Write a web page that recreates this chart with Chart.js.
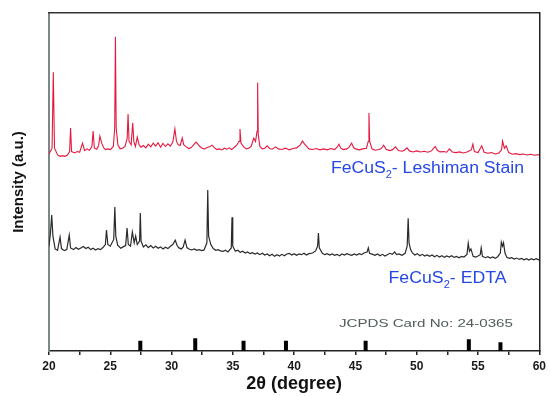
<!DOCTYPE html>
<html>
<head>
<meta charset="utf-8">
<script src="https://cdn.jsdelivr.net/npm/chart.js@4/dist/chart.umd.min.js"></script>
<style>
  html, body { margin: 0; padding: 0; background: #fff; }
  canvas { display: block; }
</style>
</head>
<body>
<canvas id="xrd" width="550" height="396"></canvas>
<script>
// --- DATA ---
// 2theta (deg), intensity (a.u., offset stack)
const leshimanScan = [
  [20.0,58.3],[20.25,60],[20.35,82.5],[20.45,60],[20.7,58.0],[20.9,57.6],[21.1,57.8],[21.3,57.6],[21.5,58.0],[21.68,59],
  [21.76,66.0],[21.84,59],[22.1,58.6],[22.3,59.0],[22.5,58.8],[22.74,61.5],[22.9,59.3],[23.1,59.8],[23.3,59.4],[23.5,60.5],
  [23.6,65.1],[23.7,60],[23.9,59.7],[24.05,60.8],[24.15,63.6],[24.3,61.5],[24.45,60.2],[24.6,59.6],[24.8,59.8],[25.0,59.6],
  [25.25,60.5],[25.36,66],[25.42,93.0],[25.48,66],[25.62,61],[25.8,59.8],[26.0,60.0],[26.2,60.5],[26.38,63],[26.45,70.1],
  [26.53,62],[26.7,61],[26.83,67.5],[26.92,62],[27.05,60.5],[27.2,63.3],[27.35,61],[27.5,60.3],[27.7,60.8],[27.9,60.1],
  [28.1,61.2],[28.3,60.4],[28.5,61.5],[28.7,60.6],[28.9,61.6],[29.1,60.3],[29.3,61.4],[29.5,60.5],[29.7,61.3],[29.9,60.6],
  [30.1,61.8],[30.27,65.7],[30.4,62.0],[30.55,61],[30.7,60.8],[30.87,63.0],[31.0,61],[31.2,60.4],[31.4,59.9],[31.6,60.2],
  [31.8,61.0],[32.0,61.8],[32.15,61.2],[32.3,60.5],[32.5,60.0],[32.7,59.8],[32.9,60.2],[33.1,60.4],[33.3,60.9],[33.5,60.1],
  [33.7,59.6],[33.9,59.8],[34.1,59.5],[34.3,60.0],[34.5,59.7],[34.7,60.1],[34.9,59.6],[35.1,60.2],[35.3,60.8],[35.5,62],
  [35.58,65.7],[35.66,61.5],[35.9,60.3],[36.1,59.8],[36.3,60.0],[36.5,60.6],[36.7,63.0],[36.85,62],[36.97,65],[37.02,79.4],
  [37.07,64],[37.2,60.5],[37.4,59.8],[37.6,60.0],[37.8,60.7],[38.0,59.9],[38.2,59.7],[38.5,60.4],[38.7,59.8],[39.0,59.6],
  [39.3,60.0],[39.6,59.5],[39.9,59.9],[40.2,60.1],[40.5,61.0],[40.68,62.1],[40.85,61.2],[41.0,60.6],[41.2,59.8],[41.5,59.6],
  [41.8,59.9],[42.1,59.5],[42.4,59.8],[42.7,59.5],[43.0,59.9],[43.3,59.6],[43.5,60.3],[43.66,61.2],[43.8,60.0],[44.0,59.6],
  [44.3,59.8],[44.5,60.4],[44.69,61.5],[44.85,60.2],[45.0,59.8],[45.3,59.5],[45.6,59.8],[45.9,60.0],[46.04,62],[46.1,70.4],
  [46.16,62],[46.35,59.8],[46.6,59.4],[46.9,59.6],[47.1,59.9],[47.3,60.9],[47.5,59.7],[47.8,59.3],[48.0,59.5],[48.27,60.4],
  [48.5,59.3],[48.8,59.1],[49.0,59.4],[49.2,60.1],[49.4,59.2],[49.7,58.9],[50.0,59.2],[50.3,58.9],[50.6,59.1],[50.9,58.8],
  [51.2,59.2],[51.5,60.5],[51.7,59.3],[51.9,58.9],[52.2,59.0],[52.45,58.8],[52.66,59.8],[52.9,58.9],[53.2,58.7],[53.5,58.9],
  [53.8,58.6],[54.1,58.9],[54.45,59.5],[54.58,61.2],[54.7,59.0],[55.0,58.7],[55.3,60.7],[55.5,58.8],[55.8,58.5],[56.1,58.7],
  [56.4,58.3],[56.7,58.6],[56.92,59.5],[57.0,62.1],[57.15,60.0],[57.3,60.7],[57.5,58.7],[57.8,58.2],[58.1,58.4],[58.4,58.1],
  [58.7,58.3],[59.0,58.0],[59.3,58.2],[59.6,57.9],[60.0,58.1]
];

const edtaScan = [
  [20.0,31],[20.12,35],[20.22,40.2],[20.32,34],[20.5,30.2],[20.7,29.8],[20.9,33.7],[21.02,30.3],[21.25,29.7],[21.45,30.0],
  [21.65,34.3],[21.76,30.5],[22.0,30.0],[22.2,30.6],[22.4,30.1],[22.6,30.5],[22.8,30.9],[23.0,30.3],[23.2,30.7],[23.4,30.0],
  [23.6,30.4],[23.8,29.9],[24.0,30.3],[24.2,30.0],[24.4,30.6],[24.6,31.5],[24.69,35.8],[24.8,31.5],[25.0,31],[25.28,33],
  [25.37,42.6],[25.45,34],[25.6,31.3],[25.85,30.4],[26.05,30.8],[26.25,31.2],[26.37,36.4],[26.47,31.5],[26.65,31],[26.8,35.2],
  [26.95,32],[27.07,34.0],[27.2,31.5],[27.39,32.5],[27.45,40.8],[27.51,32.5],[27.7,30.8],[27.9,31.4],[28.1,30.6],[28.3,31.2],
  [28.5,30.5],[28.7,31.0],[28.9,30.4],[29.1,30.8],[29.3,30.2],[29.5,30.7],[29.7,30.3],[29.9,31.0],[30.1,31.5],[30.3,32.8],
  [30.45,31.2],[30.6,30.5],[30.8,30.2],[30.95,30.8],[31.1,32.8],[31.25,30.6],[31.45,30.1],[31.65,29.9],[31.85,30.2],[32.05,29.8],
  [32.25,30.0],[32.45,29.7],[32.65,29.9],[32.88,32],[32.95,47.6],[33.02,34],[33.2,31.5],[33.4,30.3],[33.6,29.8],[33.8,30.0],
  [34.0,29.6],[34.2,29.5],[34.4,29.8],[34.6,29.3],[34.87,30.5],[34.93,39.6],[34.99,31],[35.2,29.5],[35.4,29.8],[35.6,29.2],
  [35.8,29.5],[36.0,29.0],[36.2,29.3],[36.4,28.8],[36.6,29.1],[36.8,28.7],[37.0,29.0],[37.2,28.5],[37.4,28.9],[37.6,28.4],
  [37.8,28.7],[38.0,28.2],[38.2,28.6],[38.4,28.0],[38.6,28.5],[38.8,28.1],[39.0,28.6],[39.2,28.2],[39.4,28.7],[39.6,28.9],
  [39.8,28.4],[40.0,28.8],[40.2,28.3],[40.4,28.7],[40.6,28.5],[40.8,28.9],[41.0,28.4],[41.2,28.8],[41.5,29.0],[41.75,29.6],
  [41.91,31],[41.98,34.9],[42.05,30.5],[42.3,28.9],[42.5,28.5],[42.7,28.8],[42.9,28.4],[43.1,28.7],[43.3,28.3],[43.5,28.6],
  [43.7,28.2],[43.9,28.7],[44.1,28.4],[44.3,28.8],[44.5,28.5],[44.7,28.3],[44.9,28.7],[45.1,28.4],[45.3,28.8],[45.5,28.5],
  [45.7,29.0],[45.95,29.3],[46.05,30.5],[46.15,28.9],[46.4,28.6],[46.6,28.3],[46.8,28.7],[47.0,28.2],[47.2,28.6],[47.4,28.1],
  [47.6,28.5],[47.8,28.9],[48.0,28.6],[48.2,29.3],[48.35,28.5],[48.55,28.7],[48.8,28.3],[49.05,28.9],[49.22,31],[49.3,39.3],
  [49.37,32],[49.5,30.0],[49.65,29.0],[49.85,28.4],[50.05,28.8],[50.25,28.2],[50.45,28.6],[50.65,28.1],[50.85,28.4],[51.05,28.0],
  [51.25,28.4],[51.45,27.9],[51.65,28.3],[51.85,27.8],[52.05,28.2],[52.25,27.7],[52.45,28.1],[52.65,27.8],[52.85,28.2],[53.05,27.7],
  [53.25,28.0],[53.45,27.6],[53.65,28.0],[53.85,27.8],[54.1,28.6],[54.2,31.9],[54.3,29.5],[54.42,30.2],[54.6,28.0],[54.8,27.8],
  [55.0,28.1],[55.18,28.5],[55.26,30.5],[55.36,28.0],[55.6,27.6],[55.8,27.9],[56.0,27.5],[56.2,27.8],[56.4,27.4],[56.6,27.9],
  [56.82,29],[56.9,32.2],[57.0,31.0],[57.08,32],[57.2,29],[57.35,27.7],[57.55,27.4],[57.75,27.6],[57.95,27.2],[58.15,27.5],
  [58.35,27.1],[58.55,27.4],[58.75,27.0],[58.95,27.3],[59.15,26.9],[59.35,27.3],[59.55,27.0],[59.75,27.3],[60.0,26.9]
];

// JCPDS 24-0365 reference lines
const refTheta = [27.45, 31.93, 35.87, 39.33, 45.83, 54.25, 56.83];
const refHeight = [3.05, 3.75, 3.05, 3.05, 3.05, 3.45, 2.6];

const xTickLabels = [20, 25, 30, 35, 40, 45, 50, 55, 60];

const scanLabels = ['FeCuS2- Leshiman Stain', 'FeCuS2- EDTA'];
const cardLabel = 'JCPDS Card No: 24-0365';

// --- HELPERS ---
const toPoints = (scan) => scan.map(([t, i]) => ({ x: t, y: i }));

// each stick: base -> top -> gap
const refPoints = refTheta.flatMap((t, i) => [{ x: t, y: 0 }, { x: t, y: refHeight[i] }, { x: t, y: null }]);

const FONT = "'Liberation Sans', Arial, sans-serif";

// draws "FeCuS2- xxx" with subscript 2, squeezed/stretched to a target width
const drawFormula = (ctx, text, left, base, size, width) => {
  const [head, tail] = text.split('2');
  const parts = [
    { s: head, f: `${size}px ${FONT}`, dy: 0 },
    { s: '2', f: `${Math.round(size * 0.62)}px ${FONT}`, dy: size * 0.3 },
    { s: tail, f: `${size}px ${FONT}`, dy: 0 }
  ];
  let total = 0;
  parts.forEach(p => { ctx.font = p.f; p.w = ctx.measureText(p.s).width; total += p.w; });
  const k = width / total;
  ctx.save();
  ctx.translate(left, base);
  ctx.scale(k, 1);
  let cx = 0;
  parts.forEach(p => { ctx.font = p.f; ctx.fillText(p.s, cx, p.dy); cx += p.w; });
  ctx.restore();
};

const annotate = {
  id: 'annotate',
  afterDatasetsDraw(chart) {
    const { ctx, scales: { x, y } } = chart;
    ctx.save();
    ctx.textBaseline = 'alphabetic';
    ctx.textAlign = 'left';
    ctx.fillStyle = '#2547e6';
    drawFormula(ctx, scanLabels[0], x.getPixelForValue(43.0), y.getPixelForValue(52.7), 16, 193);
    drawFormula(ctx, scanLabels[1], x.getPixelForValue(47.7), y.getPixelForValue(20.1), 16, 118);

    ctx.fillStyle = '#4f5d59';
    ctx.font = `11px ${FONT}`;
    const w = ctx.measureText(cardLabel).width;
    ctx.translate(x.getPixelForValue(43.65), y.getPixelForValue(7.1));
    ctx.scale(174 / w, 1);
    ctx.fillText(cardLabel, 0, 0);
    ctx.restore();
  }
};

new Chart(document.getElementById('xrd'), {
  type: 'line',
  data: {
    datasets: [
      { label: 'Leshiman Stain', data: toPoints(leshimanScan), borderColor: '#e5193f', borderWidth: 1.1, pointRadius: 0, tension: 0 },
      { label: 'EDTA', data: toPoints(edtaScan), borderColor: '#2a2a2a', borderWidth: 1.2, pointRadius: 0, tension: 0 },
      { label: 'JCPDS', data: refPoints, borderColor: '#000', borderWidth: 4, borderCapStyle: 'butt', pointRadius: 0, spanGaps: false }
    ]
  },
  options: {
    responsive: false,
    animation: false,
    events: [],
    layout: { padding: { top: 13, right: 9, bottom: 0, left: 0 } },
    plugins: { legend: { display: false }, tooltip: { enabled: false } },
    scales: {
      x: {
        type: 'linear', min: 20, max: 60, offset: false,
        afterFit: (s) => { s.height = 45; },
        afterBuildTicks: (s) => { s.ticks = []; for (let v = 20; v <= 60; v += 2.5) s.ticks.push({ value: v }); },
        ticks: {
          autoSkip: false, maxRotation: 0, padding: 4, color: '#1a1a1a',
          font: { family: FONT, size: 12, weight: 'bold' },
          callback: (v) => xTickLabels.includes(v) ? String(v) : ''
        },
        grid: { drawOnChartArea: false, drawTicks: true, tickLength: 4, color: '#222', lineWidth: 1.5 },
        border: { display: true, color: '#222', width: 1.5 },
        title: { display: true, text: '2θ (degree)', color: '#111', padding: { top: 0, bottom: 1 }, font: { family: FONT, size: 18, weight: 'bold' } }
      },
      y: {
        type: 'linear', min: 0, max: 100, position: 'left',
        afterFit: (s) => { s.width = 49; },
        ticks: { display: false },
        grid: { display: false, drawTicks: false },
        border: { display: true, color: '#7d8785', width: 2 },
        title: { display: true, text: 'Intensity (a.u.)', color: '#111', padding: { top: 10, bottom: 0 }, font: { family: FONT, size: 15, weight: 'bold' } }
      },
      xTop: {
        type: 'linear', position: 'top', min: 20, max: 60,
        afterFit: (s) => { s.height = 0; },
        ticks: { display: false }, grid: { display: false, drawTicks: false },
        border: { display: true, color: '#333', width: 1.5 }
      },
      yRight: {
        type: 'linear', position: 'right', min: 0, max: 100,
        afterFit: (s) => { s.width = 0; },
        ticks: { display: false }, grid: { display: false, drawTicks: false },
        border: { display: true, color: '#222', width: 1.5 }
      }
    }
  },
  plugins: [annotate]
});
</script>
</body>
</html>
